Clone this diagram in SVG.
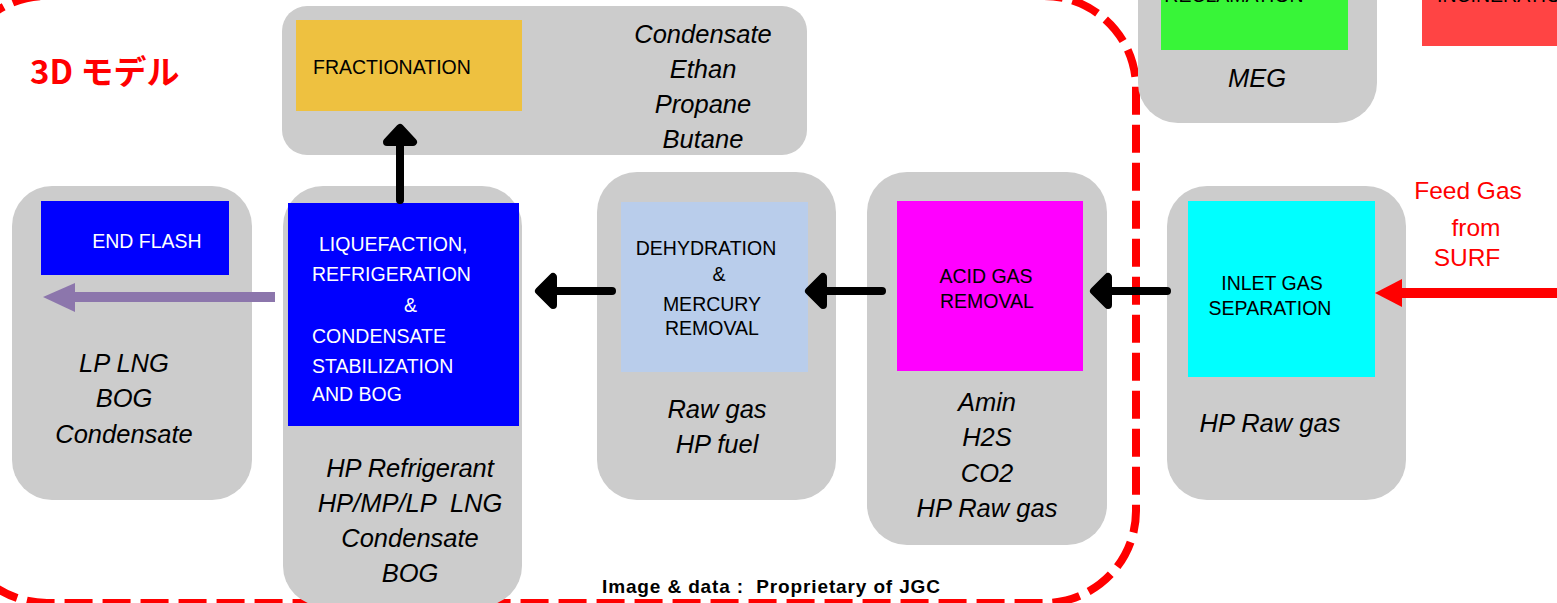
<svg xmlns="http://www.w3.org/2000/svg" width="1557" height="603" viewBox="0 0 1557 603">
<style>
.box{fill:#CCCCCC}
.lbl{font-family:"Liberation Sans",Arial,sans-serif;font-size:19.5px;fill:#000}
.wlbl{font-family:"Liberation Sans",Arial,sans-serif;font-size:19.5px;fill:#FFFFFF}
.it{font-family:"Liberation Sans",Arial,sans-serif;font-size:25.5px;font-style:italic;fill:#000;text-anchor:middle}
.red{font-family:"Liberation Sans",Arial,sans-serif;font-size:24.5px;fill:#FF0000;text-anchor:middle}
.mid{text-anchor:middle}
.blk{stroke:#000;stroke-width:8;stroke-linecap:round;stroke-linejoin:round;fill:#000}
</style>
<rect width="1557" height="603" fill="#FFFFFF"/>
<g id="boundary">
<rect x="-45" y="-4" width="1181" height="607" rx="92" ry="92" fill="none" stroke="#FF0000" stroke-width="8" stroke-dasharray="28 10"/>
</g>
<text x="30" y="84" font-family="'Noto Sans CJK JP',sans-serif" font-size="33" font-weight="bold" fill="#FF0000">3D モデル</text>
<g id="fractionation">
<rect class="box" x="282" y="6" width="525" height="149" rx="25"/>
<rect x="296" y="20" width="226" height="91" fill="#EEC140"/>
<text class="lbl" x="313" y="74">FRACTIONATION</text>
<text class="it" x="703" y="43">Condensate</text>
<text class="it" x="703" y="78">Ethan</text>
<text class="it" x="703" y="113">Propane</text>
<text class="it" x="703" y="148">Butane</text>
</g>
<g id="meg">
<rect class="box" x="1138" y="-40" width="239" height="163" rx="40"/>
<rect x="1161" y="-10" width="187" height="60" fill="#38F538"/>
<text class="lbl mid" x="1234" y="2">RECLAMATION</text>
<text class="it" x="1257" y="87">MEG</text>
</g>
<g id="incineration">
<rect x="1422" y="-10" width="140" height="56" fill="#FF4444"/>
<text class="lbl" x="1437" y="2">INCINERATION</text>
</g>
<g id="endflash">
<rect class="box" x="12" y="186" width="240" height="314" rx="40"/>
<rect x="41" y="201" width="188" height="74" fill="#0000FF"/>
<text class="wlbl mid" x="147" y="248">END FLASH</text>
<text class="it" x="124" y="372">LP LNG</text>
<text class="it" x="124" y="407">BOG</text>
<text class="it" x="124" y="443">Condensate</text>
</g>
<g id="liquefaction">
<rect class="box" x="283" y="186" width="239" height="420" rx="40"/>
<rect x="288" y="203" width="231" height="223" fill="#0000FF"/>
<text class="wlbl" x="319" y="251">LIQUEFACTION,</text>
<text class="wlbl" x="312" y="281">REFRIGERATION</text>
<text class="wlbl" x="404" y="312">&amp;</text>
<text class="wlbl" x="312" y="343">CONDENSATE</text>
<text class="wlbl" x="312" y="373">STABILIZATION</text>
<text class="wlbl" x="312" y="401">AND BOG</text>
<text class="it" x="410" y="477">HP Refrigerant</text>
<text class="it" x="410" y="512" xml:space="preserve">HP/MP/LP  LNG</text>
<text class="it" x="410" y="547">Condensate</text>
<text class="it" x="410" y="582">BOG</text>
</g>
<g id="dehydration">
<rect class="box" x="597" y="172" width="239" height="328" rx="40"/>
<rect x="621" y="202" width="187" height="170" fill="#B9CDEB"/>
<text class="lbl mid" x="706" y="255">DEHYDRATION</text>
<text class="lbl mid" x="719" y="281">&amp;</text>
<text class="lbl mid" x="712" y="311">MERCURY</text>
<text class="lbl mid" x="712" y="335">REMOVAL</text>
<text class="it" x="717" y="418">Raw gas</text>
<text class="it" x="717" y="453">HP fuel</text>
</g>
<g id="acidgas">
<rect class="box" x="867" y="172" width="240" height="373" rx="40"/>
<rect x="897" y="201" width="186" height="170" fill="#FF00FF"/>
<text class="lbl mid" x="986" y="283">ACID GAS</text>
<text class="lbl mid" x="987" y="308">REMOVAL</text>
<text class="it" x="987" y="411">Amin</text>
<text class="it" x="987" y="446">H2S</text>
<text class="it" x="987" y="482">CO2</text>
<text class="it" x="987" y="517">HP Raw gas</text>
</g>
<g id="inlet">
<rect class="box" x="1167" y="186" width="239" height="314" rx="40"/>
<rect x="1188" y="201" width="187" height="176" fill="#00FFFF"/>
<text class="lbl mid" x="1272" y="290">INLET GAS</text>
<text class="lbl mid" x="1270" y="315">SEPARATION</text>
<text class="it" x="1270" y="432">HP Raw gas</text>
</g>
<g id="feedgas">
<text class="red" x="1468" y="199">Feed Gas</text>
<text class="red" x="1476" y="236">from</text>
<text class="red" x="1467" y="266">SURF</text>
</g>
<g id="connectors">
<line class="blk" x1="400" y1="200" x2="400" y2="142"/>
<polygon class="blk" points="400,128 413,142 387,142"/>
<line class="blk" x1="612" y1="291" x2="553" y2="291"/>
<polygon class="blk" points="539,291 553,277 553,305"/>
<line class="blk" x1="882" y1="291" x2="823" y2="291"/>
<polygon class="blk" points="809,291 823,277 823,305"/>
<line class="blk" x1="1167" y1="291" x2="1108" y2="291"/>
<polygon class="blk" points="1094,291 1108,277 1108,305"/>
<rect x="75" y="292" width="200" height="10" fill="#8C76AC"/>
<polygon points="43,297 75,283 75,312" fill="#8C76AC"/>
<rect x="1402" y="288" width="155" height="10" fill="#FF0000"/>
<polygon points="1375,293 1402,279 1402,307" fill="#FF0000"/>
</g>
<text x="602" y="593" font-family="'Liberation Sans',Arial,sans-serif" font-size="19" font-weight="bold" fill="#000" textLength="338" lengthAdjust="spacing" xml:space="preserve">Image &amp; data :  Proprietary of JGC</text>
</svg>
